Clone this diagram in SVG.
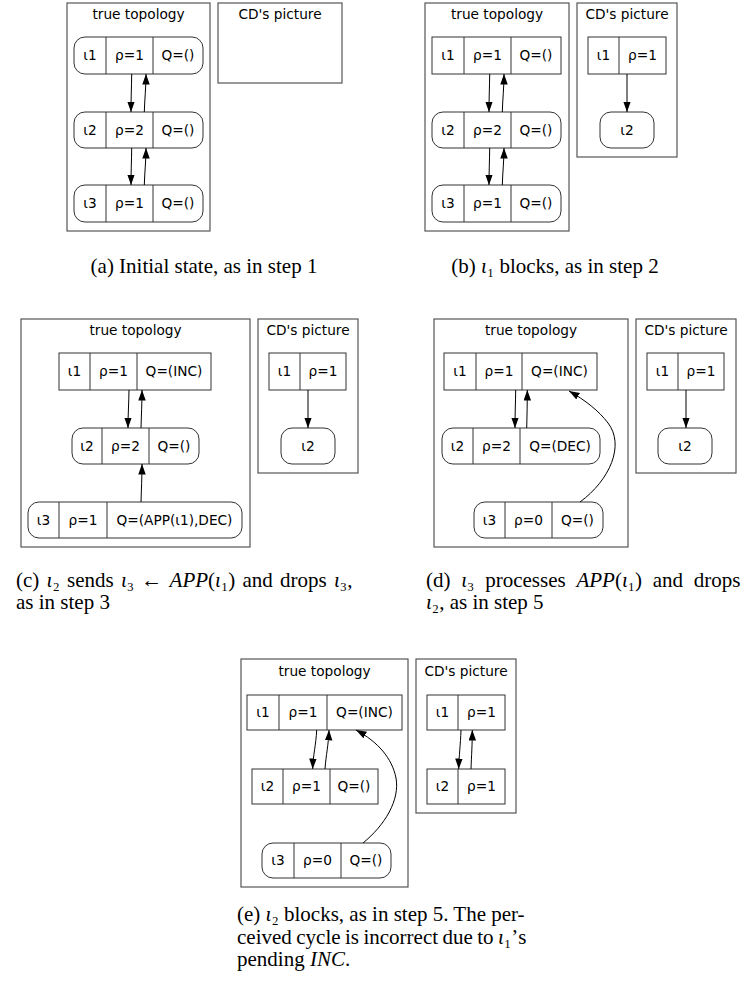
<svg xmlns="http://www.w3.org/2000/svg" width="750" height="987" viewBox="0 0 750 987">
<defs>
<marker id="ah" markerUnits="userSpaceOnUse" markerWidth="11" markerHeight="8" refX="10.5" refY="3.75" orient="auto">
<path d="M0,0 L10.5,3.75 L0,7.5 z" fill="#000"/>
</marker>
<style>
.cl{fill:none;stroke:#555;stroke-width:1.2}
.nd{fill:#fff;stroke:#333;stroke-width:1}
.dv{stroke:#333;stroke-width:1}
.t{font-family:"DejaVu Sans",sans-serif;font-size:13.7px;fill:#000;text-anchor:middle}
.e{fill:none;stroke:#000;stroke-width:1;marker-end:url(#ah)}
.cap{font-family:"Liberation Serif","DejaVu Serif","Times New Roman",serif;font-size:21px;fill:#000}
.mi{font-style:italic}
</style>
</defs>
<rect width="750" height="987" fill="#fff"/>

<!-- Panel (a) -->
<g id="panel-a">
<g id="a-true"><rect class="cl" x="67" y="3" width="143" height="228"/><text class="t" x="138.5" y="19">true topology</text></g>
<g id="a-cd"><rect class="cl" x="218" y="3" width="124" height="80"/><text class="t" x="280" y="19">CD's picture</text></g>
<g id="a-n1"><rect class="nd" x="74" y="37" width="129" height="37" rx="11"/><line class="dv" x1="106" y1="37" x2="106" y2="74"/><line class="dv" x1="153" y1="37" x2="153" y2="74"/><text class="t" x="90" y="60">ι1</text><text class="t" x="129.5" y="60">ρ=1</text><text class="t" x="178" y="60">Q=()</text></g>
<g id="a-n2"><rect class="nd" x="74" y="112" width="129" height="36" rx="11"/><line class="dv" x1="106" y1="112" x2="106" y2="148"/><line class="dv" x1="153" y1="112" x2="153" y2="148"/><text class="t" x="90" y="135">ι2</text><text class="t" x="129.5" y="135">ρ=2</text><text class="t" x="178" y="135">Q=()</text></g>
<g id="a-n3"><rect class="nd" x="74" y="185" width="129" height="37" rx="11"/><line class="dv" x1="106" y1="185" x2="106" y2="222"/><line class="dv" x1="153" y1="185" x2="153" y2="222"/><text class="t" x="90" y="208">ι3</text><text class="t" x="129.5" y="208">ρ=1</text><text class="t" x="178" y="208">Q=()</text></g>
</g>

<!-- Panel (b) -->
<g id="panel-b">
<g id="b-true"><rect class="cl" x="425" y="3" width="144" height="228"/><text class="t" x="497" y="19">true topology</text></g>
<g id="b-cd"><rect class="cl" x="577" y="3" width="100" height="154"/><text class="t" x="627" y="19">CD's picture</text></g>
<g id="b-n1"><rect class="nd" x="432" y="37" width="129" height="37"/><line class="dv" x1="464" y1="37" x2="464" y2="74"/><line class="dv" x1="511" y1="37" x2="511" y2="74"/><text class="t" x="448" y="60">ι1</text><text class="t" x="487.5" y="60">ρ=1</text><text class="t" x="536" y="60">Q=()</text></g>
<g id="b-n2"><rect class="nd" x="432" y="112" width="129" height="36" rx="11"/><line class="dv" x1="464" y1="112" x2="464" y2="148"/><line class="dv" x1="511" y1="112" x2="511" y2="148"/><text class="t" x="448" y="135">ι2</text><text class="t" x="487.5" y="135">ρ=2</text><text class="t" x="536" y="135">Q=()</text></g>
<g id="b-n3"><rect class="nd" x="432" y="185" width="129" height="37" rx="11"/><line class="dv" x1="464" y1="185" x2="464" y2="222"/><line class="dv" x1="511" y1="185" x2="511" y2="222"/><text class="t" x="448" y="208">ι3</text><text class="t" x="487.5" y="208">ρ=1</text><text class="t" x="536" y="208">Q=()</text></g>
<g id="b-cd1"><rect class="nd" x="588" y="37" width="78" height="37"/><line class="dv" x1="619" y1="37" x2="619" y2="74"/><text class="t" x="603.5" y="60">ι1</text><text class="t" x="642.5" y="60">ρ=1</text></g>
<g id="b-cd2"><rect class="nd" x="600" y="112" width="54" height="36" rx="11"/><text class="t" x="627" y="135">ι2</text></g>
</g>

<!-- Panel (c) -->
<g id="panel-c">
<g id="c-true"><rect class="cl" x="21" y="319" width="229" height="228"/><text class="t" x="135.5" y="335">true topology</text></g>
<g id="c-cd"><rect class="cl" x="258" y="319" width="100" height="154"/><text class="t" x="308" y="335">CD's picture</text></g>
<g id="c-n1"><rect class="nd" x="59" y="353" width="152" height="37"/><line class="dv" x1="90" y1="353" x2="90" y2="390"/><line class="dv" x1="137" y1="353" x2="137" y2="390"/><text class="t" x="74.5" y="376">ι1</text><text class="t" x="113.5" y="376">ρ=1</text><text class="t" x="174" y="376">Q=(INC)</text></g>
<g id="c-n2"><rect class="nd" x="72" y="428" width="127" height="36" rx="11"/><line class="dv" x1="102" y1="428" x2="102" y2="464"/><line class="dv" x1="149" y1="428" x2="149" y2="464"/><text class="t" x="87" y="451">ι2</text><text class="t" x="125.5" y="451">ρ=2</text><text class="t" x="174" y="451">Q=()</text></g>
<g id="c-n3"><rect class="nd" x="28" y="502" width="214" height="36" rx="11"/><line class="dv" x1="59" y1="502" x2="59" y2="538"/><line class="dv" x1="107" y1="502" x2="107" y2="538"/><text class="t" x="43.5" y="525">ι3</text><text class="t" x="83" y="525">ρ=1</text><text class="t" x="174.5" y="525">Q=(APP(ι1),DEC)</text></g>
<g id="c-cd1"><rect class="nd" x="269" y="353" width="77" height="37"/><line class="dv" x1="300" y1="353" x2="300" y2="390"/><text class="t" x="284.5" y="376">ι1</text><text class="t" x="323" y="376">ρ=1</text></g>
<g id="c-cd2"><rect class="nd" x="281" y="428" width="54" height="36" rx="11"/><text class="t" x="308" y="451">ι2</text></g>
</g>

<!-- Panel (d) -->
<g id="panel-d">
<g id="d-true"><rect class="cl" x="434" y="319" width="194" height="228"/><text class="t" x="531" y="335">true topology</text></g>
<g id="d-cd"><rect class="cl" x="636" y="319" width="100" height="154"/><text class="t" x="686" y="335">CD's picture</text></g>
<g id="d-n1"><rect class="nd" x="444" y="353" width="153" height="37"/><line class="dv" x1="476" y1="353" x2="476" y2="390"/><line class="dv" x1="522" y1="353" x2="522" y2="390"/><text class="t" x="460" y="376">ι1</text><text class="t" x="499" y="376">ρ=1</text><text class="t" x="559.5" y="376">Q=(INC)</text></g>
<g id="d-n2"><rect class="nd" x="442" y="428" width="158" height="36" rx="11"/><line class="dv" x1="473" y1="428" x2="473" y2="464"/><line class="dv" x1="520" y1="428" x2="520" y2="464"/><text class="t" x="457.5" y="451">ι2</text><text class="t" x="496.5" y="451">ρ=2</text><text class="t" x="560" y="451">Q=(DEC)</text></g>
<g id="d-n3"><rect class="nd" x="474" y="502" width="129" height="36" rx="11"/><line class="dv" x1="505" y1="502" x2="505" y2="538"/><line class="dv" x1="552" y1="502" x2="552" y2="538"/><text class="t" x="489.5" y="525">ι3</text><text class="t" x="528.5" y="525">ρ=0</text><text class="t" x="577.5" y="525">Q=()</text></g>
<g id="d-cd1"><rect class="nd" x="647" y="353" width="77" height="37"/><line class="dv" x1="678" y1="353" x2="678" y2="390"/><text class="t" x="662.5" y="376">ι1</text><text class="t" x="701" y="376">ρ=1</text></g>
<g id="d-cd2"><rect class="nd" x="658" y="428" width="54" height="36" rx="11"/><text class="t" x="685" y="451">ι2</text></g>
</g>

<!-- Panel (e) -->
<g id="panel-e">
<g id="e-true"><rect class="cl" x="241" y="659" width="167" height="228"/><text class="t" x="324.5" y="676">true topology</text></g>
<g id="e-cd"><rect class="cl" x="416" y="659" width="100" height="154"/><text class="t" x="466" y="676">CD's picture</text></g>
<g id="e-n1"><rect class="nd" x="247" y="695" width="155" height="35"/><line class="dv" x1="279" y1="695" x2="279" y2="730"/><line class="dv" x1="327" y1="695" x2="327" y2="730"/><text class="t" x="263" y="717">ι1</text><text class="t" x="303" y="717">ρ=1</text><text class="t" x="364.5" y="717">Q=(INC)</text></g>
<g id="e-n2"><rect class="nd" x="252" y="769" width="126" height="35"/><line class="dv" x1="283" y1="769" x2="283" y2="804"/><line class="dv" x1="330" y1="769" x2="330" y2="804"/><text class="t" x="267.5" y="791">ι2</text><text class="t" x="306.5" y="791">ρ=1</text><text class="t" x="354" y="791">Q=()</text></g>
<g id="e-n3"><rect class="nd" x="262" y="843" width="129" height="35" rx="11"/><line class="dv" x1="294" y1="843" x2="294" y2="878"/><line class="dv" x1="341" y1="843" x2="341" y2="878"/><text class="t" x="278" y="865">ι3</text><text class="t" x="317.5" y="865">ρ=0</text><text class="t" x="366" y="865">Q=()</text></g>
<g id="e-cd1"><rect class="nd" x="427" y="695" width="78" height="35"/><line class="dv" x1="458" y1="695" x2="458" y2="730"/><text class="t" x="442.5" y="717">ι1</text><text class="t" x="481.5" y="717">ρ=1</text></g>
<g id="e-cd2"><rect class="nd" x="427" y="769" width="78" height="35"/><line class="dv" x1="458" y1="769" x2="458" y2="804"/><text class="t" x="442.5" y="791">ι2</text><text class="t" x="481.5" y="791">ρ=1</text></g>
</g>

<g id="connectors">
<path class="e" d="M131.7,74 C131.5,88 131,98 131,112"/>
<path class="e" d="M144.3,112 C144.6,100 146,88 146,74"/>
<path class="e" d="M131.7,148 C131.5,162 131,172 131,185"/>
<path class="e" d="M144.3,185 C144.6,173 146,161 146,148"/>
<path class="e" d="M489.7,74 C489.5,88 489,98 489,112"/>
<path class="e" d="M502.3,112 C502.6,100 504,88 504,74"/>
<path class="e" d="M489.7,148 C489.5,162 489,172 489,185"/>
<path class="e" d="M502.3,185 C502.6,173 504,161 504,148"/>
<path class="e" d="M627,74 L627,112"/>
<path class="e" d="M129,390 C128.8,404 128,414 128,428"/>
<path class="e" d="M141,428 C141.3,416 142,404 142,390"/>
<path class="e" d="M141,502 C141.3,490 142,478 142,464"/>
<path class="e" d="M308,390 L308,428"/>
<path class="e" d="M515.7,390 C515.5,404 515,414 515,428"/>
<path class="e" d="M526.7,428 C527,416 527.3,404 527.3,390"/>
<path class="e" d="M580,502 C610,480 625,445 608,423 C599,411 585,400 569,391"/>
<path class="e" d="M686,390 L686,428"/>
<path class="e" d="M316.7,730 C316,745 313,755 312.7,769"/>
<path class="e" d="M325,769 C326,755 328.5,745 329,730"/>
<path class="e" d="M363,843 C385,825 400,800 396,778 C392,758 378,742 356,730"/>
<path class="e" d="M461,730 C460.5,745 459,755 458.7,769"/>
<path class="e" d="M471,769 C471.5,755 472.3,745 472.3,730"/>
</g>

<g id="captions">
<text class="cap" x="204" y="273" text-anchor="middle">(a) Initial state, as in step 1</text>
<text class="cap" x="555" y="273" text-anchor="middle">(b) <tspan class="mi">ι</tspan>₁ blocks, as in step 2</text>
<text class="cap" x="16" y="587" word-spacing="2">(c) <tspan class="mi">ι</tspan>₂ sends <tspan class="mi">ι</tspan>₃ ← <tspan class="mi">APP</tspan>(<tspan class="mi">ι</tspan>₁) and drops <tspan class="mi">ι</tspan>₃,</text>
<text class="cap" x="16" y="609">as in step 3</text>
<text class="cap" x="426" y="587" word-spacing="5.5">(d) <tspan class="mi">ι</tspan>₃ processes <tspan class="mi">APP</tspan>(<tspan class="mi">ι</tspan>₁) and drops</text>
<text class="cap" x="426" y="609"><tspan class="mi">ι</tspan>₂, as in step 5</text>
<text class="cap" x="237" y="921">(e) <tspan class="mi">ι</tspan>₂ blocks, as in step 5. The per-</text>
<text class="cap" x="237" y="943.5" word-spacing="-0.8">ceived cycle is incorrect due to <tspan class="mi">ι</tspan>₁’s</text>
<text class="cap" x="237" y="966">pending <tspan class="mi">INC</tspan>.</text>
</g>
</svg>
